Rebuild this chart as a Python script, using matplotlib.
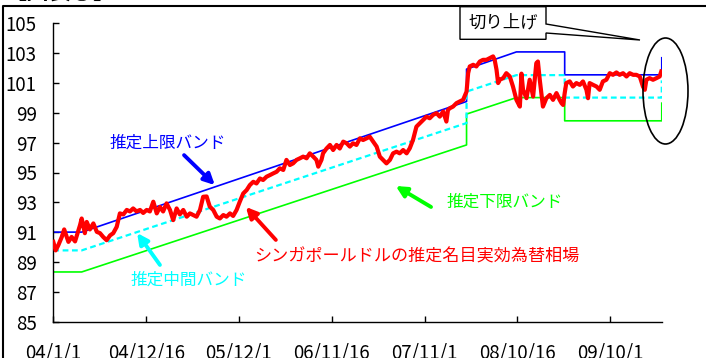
import numpy as np
import matplotlib

matplotlib.use("Agg")
import matplotlib.pyplot as plt
import matplotlib.dates as mdates
from matplotlib.patches import Ellipse, Polygon
from matplotlib.lines import Line2D

plt.rcParams["font.family"] = ["Noto Sans CJK JP", "DejaVu Sans"]

# days since 2004-01-01 and index level of the estimated NEER
fx_day = [
    0, 9, 19, 32, 41, 57, 69, 82, 101, 107, 119, 126, 138, 151, 164, 176, 188, 201,
    214, 226, 239, 251, 264, 277, 289, 301, 314, 327, 339, 352, 364, 377, 390, 402,
    414, 427, 440, 452, 465, 477, 490, 503, 515, 540, 553, 565, 578, 590, 603, 616,
    628, 641, 653, 666, 678, 691, 703, 716, 729, 741, 754, 766, 779, 791, 804, 817,
    829, 842, 854, 867, 879, 892, 904, 917, 930, 942, 955, 967, 980, 992, 999, 1011,
    1017, 1030, 1043, 1055, 1068, 1080, 1093, 1106, 1118, 1130, 1143, 1156, 1168,
    1181, 1193, 1206, 1219, 1231, 1243, 1256, 1269, 1281, 1294, 1306, 1319, 1332,
    1344, 1356, 1369, 1382, 1394, 1407, 1419, 1432, 1445, 1457, 1470, 1482, 1488,
    1495, 1507, 1520, 1532, 1545, 1558, 1564, 1570, 1583, 1595, 1608, 1620, 1633,
    1646, 1658, 1664, 1671, 1677, 1683, 1696, 1708, 1721, 1733, 1746, 1759, 1765,
    1771, 1784, 1796, 1809, 1821, 1827, 1834, 1846, 1859, 1872, 1884, 1897, 1909,
    1916, 1922, 1928, 1934, 1947, 1959, 1972, 1985, 1997, 2010, 2016, 2022, 2035,
    2048, 2060, 2072, 2085, 2098, 2110, 2123, 2135, 2148, 2161, 2173, 2186, 2198,
    2211, 2223, 2230, 2236, 2248, 2261, 2274, 2286, 2292,
]
fx_value = [
    90.37, 89.8, 90.15, 90.7, 91.2, 90.37, 90.7, 90.4, 91.5, 91.93, 90.95, 91.7, 91.2,
    91.6, 91.04, 90.95, 90.7, 90.48, 90.8, 90.95, 91.37, 92.27, 92.2, 92.5, 92.4, 92.6,
    92.4, 92.5, 92.3, 92.5, 92.4, 93.05, 92.27, 92.7, 92.4, 92.94, 92.5, 91.82, 92.6,
    92.2, 92.5, 92.05, 92.27, 92.05, 92.5, 93.38, 93.4, 92.72, 92.5, 92.05, 91.93,
    92.16, 92.05, 92.27, 92.1, 92.5, 93.05, 93.6, 93.83, 94.16, 94.38, 94.27, 94.6,
    94.5, 94.72, 94.83, 94.94, 95.05, 95.28, 95.17, 95.84, 95.5, 95.61, 95.84, 95.95,
    96.06, 95.95, 96.28, 96.06, 95.84, 95.39, 95.84, 96.28, 96.6, 96.84, 96.5, 96.84,
    96.6, 97.06, 96.95, 96.73, 96.95, 96.84, 97.28, 97.17, 97.28, 97.39, 97.06, 96.73,
    96.06, 95.84, 95.61, 95.84, 96.28, 96.39, 96.28, 96.5, 96.28, 96.62, 97.17, 98.06,
    98.29, 98.5, 98.73, 98.62, 98.85, 98.96, 98.73, 99.07, 98.4, 99.18, 99.29, 99.4,
    99.63, 99.74, 99.85, 100.4, 101.63, 102.08, 102.19, 102.08, 102.41, 102.52, 102.52,
    102.64, 102.75, 102.52, 101.86, 100.97, 101.19, 101.3, 101.63, 101.41, 100.74,
    99.85, 99.4, 101.6, 100.52, 99.96, 101.19, 100.07, 102.3, 102.41, 101.19, 99.4,
    99.96, 100.18, 99.85, 100.3, 99.85, 99.63, 99.51, 100.3, 100.97, 101.08, 100.74,
    100.97, 100.85, 101.08, 100.52, 99.96, 100.97, 100.85, 100.74, 100.52, 101.08,
    101.19, 101.63, 101.52, 101.68, 101.52, 101.63, 101.41, 101.63, 101.52, 101.52,
    101.41, 100.74, 100.52, 101.19, 101.3, 101.19, 101.3, 101.41, 101.74,
]

# policy band break points (days since 2004-01-01)
band_day = [0, 107, 1558, 1558, 1746, 1928, 1928, 2294, 2294]
band_upper = [91.02, 91.02, 99.74, 101.9, 103.05, 103.05, 101.52, 101.52, 102.66]
band_mid = [89.8, 89.8, 98.3, 100.4, 101.5, 101.5, 100.0, 100.0, 101.15]
band_lower = [88.36, 88.36, 96.84, 98.9, 100.0, 100.0, 98.45, 98.45, 99.63]

tick_dates = ["2004-01-01", "2004-12-16", "2005-12-01", "2006-11-16",
              "2007-11-01", "2008-10-16", "2009-10-01"]
tick_labels = ["04/1/1", "04/12/16", "05/12/1", "06/11/16", "07/11/1", "08/10/16", "09/10/1"]

BASE = np.datetime64("2004-01-01")
W, H = 706, 358


def d(n):
    return mdates.date2num(BASE + np.asarray(n, dtype="timedelta64[D]"))


def px(x, y):
    """image pixel (top-left origin) -> figure fraction"""
    return x / W, (H - y) / H


fig = plt.figure(figsize=(W / 100, H / 100), dpi=100)
ax = fig.add_axes([53.3 / W, (H - 322.3) / H, (662.3 - 53.3) / W, 299.6 / H])

ax.plot(d(band_day), band_lower, color="#00ff00", lw=1.2, zorder=2)
ax.plot(d(band_day), band_upper, color="#0000ff", lw=1.2, zorder=2)
ax.plot(d(band_day), band_mid, color="#00ffff", lw=1.6, dashes=(2.6, 1.6), zorder=2)
ax.plot(d(fx_day), fx_value, color="#ff0000", lw=3.0, zorder=3, solid_joinstyle="round")

ax.set_xlim(d(0), d(2296))
ax.set_ylim(85, 105)
ax.set_yticks(np.arange(85, 106, 2))
ax.set_xticks(mdates.date2num(np.array(tick_dates, dtype="datetime64[D]")))
ax.set_xticklabels(tick_labels)
ax.spines[["top", "right"]].set_visible(False)
for s in ("left", "bottom"):
    ax.spines[s].set_linewidth(1.0)
ax.tick_params(axis="both", direction="in", length=4.5, width=1.0, labelsize=13.5)
ax.tick_params(axis="y", pad=12)
ax.tick_params(axis="x", pad=15)


def label(text, color, day, val, tail, head, size=12):
    ax.text(d(day), val, text, color=color, fontsize=size, ha="center", va="center")
    ax.annotate("", xy=(d(head[0]), head[1]), xytext=(d(tail[0]), tail[1]),
                arrowprops=dict(arrowstyle="-|>", color=color, lw=2.8,
                                mutation_scale=16, shrinkA=0, shrinkB=0))


label("推定上限バンド", "#0000ff", 432, 96.97, (493, 96.16), (609, 94.16))
label("推定中間バンド", "#00ffff", 512, 87.82, (402, 88.83), (316, 90.96))
label("シンガポールドルの推定名目実効為替相場", "#ff0000", 1371, 89.36, (839, 90.5), (726, 92.7), 12.3)
label("推定下限バンド", "#00ff00", 1702, 93.0, (1424, 92.7), (1291, 94.1))

# callout box with tail
callout = [px(460, 6.7), px(546, 6.7), px(546, 24), px(640, 40), px(546, 33),
           px(546, 39.3), px(460, 39.3)]
fig.patches.append(Polygon(callout, closed=True, facecolor="white", edgecolor="black",
                           lw=1.0, transform=fig.transFigure, zorder=5))
fig.text(*px(503, 22), "切り上げ", fontsize=12.5, ha="center", va="center", zorder=6)

fig.patches.append(Ellipse(px(665.5, 91), 45 / W, 106 / H, fill=False, edgecolor="black",
                           lw=1.2, transform=fig.transFigure, zorder=5))

# outer frame and clipped title
fig.lines.append(Line2D([3 / W, 3 / W, 1.0], [0.0, (H - 6) / H, (H - 6) / H],
                        color="black", lw=1.5, transform=fig.transFigure))
fig.text(*px(4, 5), "【図表⑥】", fontsize=16, fontweight="bold", ha="left", va="bottom")

fig.savefig("out.png", dpi=100)
